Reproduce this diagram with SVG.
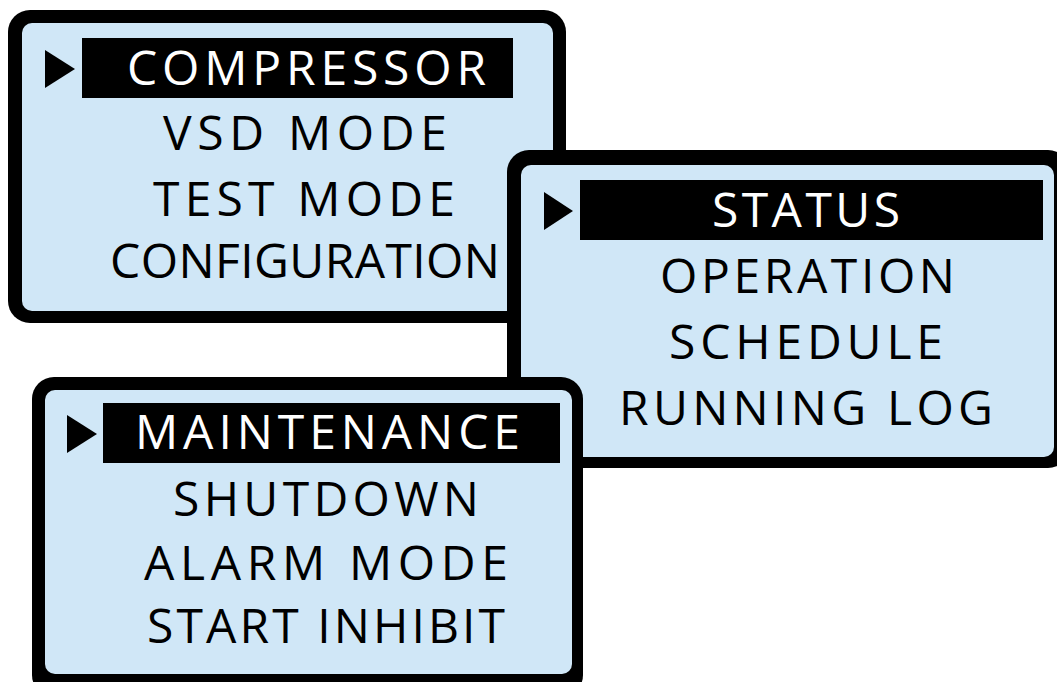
<svg xmlns="http://www.w3.org/2000/svg" width="1057" height="682" viewBox="0 0 1057 682">
<style>
.frame{fill:#000}
.screen{fill:#D0E7F7}
.bar{fill:#000}
.tri{fill:#000}
text{font-family:"Open Sans","Noto Sans","DejaVu Sans",sans-serif;font-size:48px;font-weight:500}
.sel{fill:#fff}
.item{fill:#000}
</style>
<rect width="1057" height="682" fill="#fff"/>
<g id="menu-main">
<rect class="frame" x="8" y="10" width="558" height="313" rx="22"/>
<rect class="screen" x="22" y="23" width="531" height="288" rx="10"/>
<rect class="bar" x="82" y="38" width="431" height="60"/>
<polygon class="tri" points="45,50 75,69 45,88"/>
<text class="sel" x="127" y="85" textLength="359" lengthAdjust="spacing">COMPRESSOR</text>
<text class="item" x="163" y="150" textLength="284" lengthAdjust="spacing">VSD MODE</text>
<text class="item" x="153" y="216" textLength="302" lengthAdjust="spacing">TEST MODE</text>
<text class="item" x="110" y="278" textLength="390" lengthAdjust="spacing">CONFIGURATION</text>
</g>
<g id="menu-status">
<rect class="frame" x="507" y="150" width="563" height="318" rx="22"/>
<rect class="screen" x="521" y="165" width="533" height="292" rx="10"/>
<rect class="bar" x="580" y="180" width="463" height="60"/>
<polygon class="tri" points="544,192 573,211 544,230"/>
<text class="sel" x="712" y="227" textLength="188" lengthAdjust="spacing">STATUS</text>
<text class="item" x="660" y="293" textLength="295" lengthAdjust="spacing">OPERATION</text>
<text class="item" x="669" y="359" textLength="274" lengthAdjust="spacing">SCHEDULE</text>
<text class="item" x="619" y="425" textLength="374" lengthAdjust="spacing">RUNNING LOG</text>
</g>
<g id="menu-maintenance">
<rect class="frame" x="32" y="377" width="551" height="320" rx="22"/>
<rect class="screen" x="45" y="390" width="527" height="284" rx="10"/>
<rect class="bar" x="103" y="403" width="457" height="60"/>
<polygon class="tri" points="67,415 97,434 67,453"/>
<text class="sel" x="135" y="449" textLength="385" lengthAdjust="spacing">MAINTENANCE</text>
<text class="item" x="173" y="516" textLength="306" lengthAdjust="spacing">SHUTDOWN</text>
<text class="item" x="144" y="580" textLength="364" lengthAdjust="spacing">ALARM MODE</text>
<text class="item" x="147" y="643" textLength="358" lengthAdjust="spacing">START INHIBIT</text>
</g>
</svg>
